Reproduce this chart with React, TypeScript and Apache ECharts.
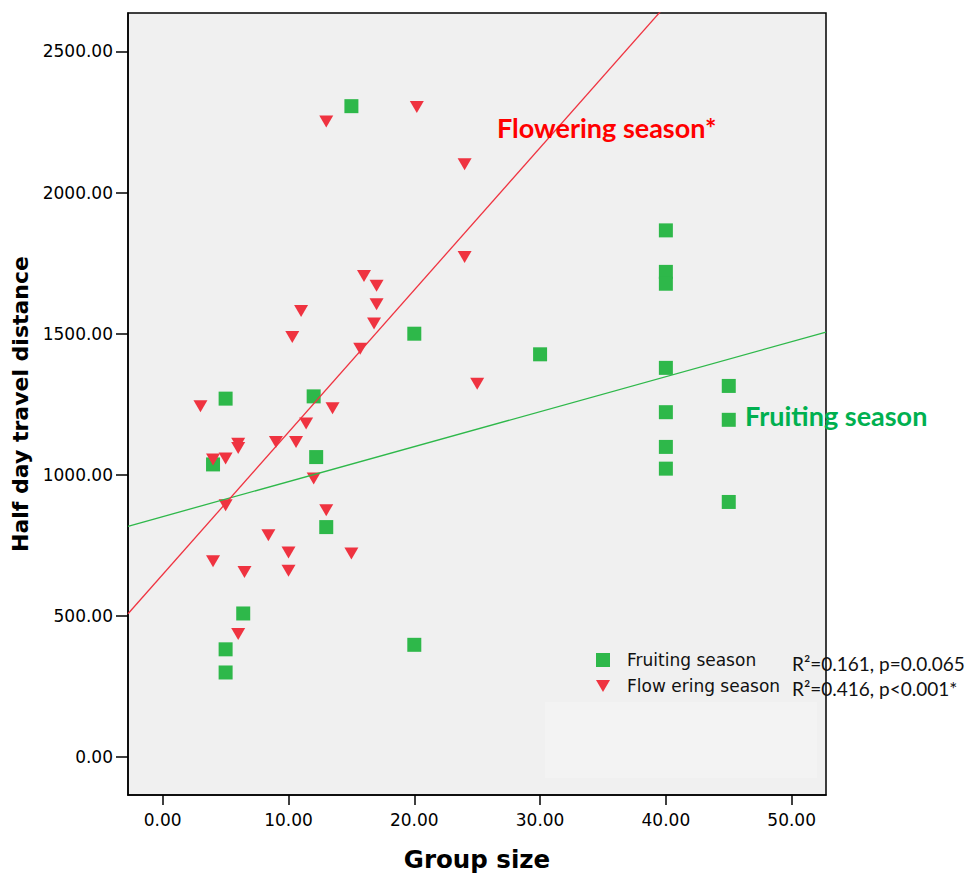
import React, { useEffect, useRef } from "react";
import * as echarts from "echarts";

// Fruiting season (green squares)
const fruitingGroupSize = [15, 20, 30, 40, 40, 40, 40, 40, 40, 40, 45, 45, 45, 5, 12, 4, 12.2, 13, 6.4, 5, 5, 20];
const fruitingDistance = [2306, 1500, 1427, 1866, 1719, 1677, 1379, 1222, 1099, 1022, 1315, 1195, 904, 1270, 1278, 1037, 1063, 815, 509, 382, 300, 398];

// Flowering season (red triangles)
const floweringGroupSize = [13, 20.2, 24, 24, 16, 17, 17, 11, 16.8, 10.3, 15.7, 25, 3, 13.5, 11.4, 9, 10.6, 6, 6, 5, 4, 12, 5, 13, 8.4, 10, 15, 4, 6.5, 10, 6];
const floweringDistance = [2252, 2303, 2100, 1772, 1704, 1670, 1604, 1580, 1536, 1488, 1447, 1323, 1243, 1236, 1182, 1116, 1116, 1110, 1095, 1058, 1054, 987, 892, 875, 786, 725, 721, 694, 656, 660, 436];

// Fit lines (intercept, slope)
const fruitingFit = { intercept: 852, slope: 12.4 };
const floweringFit = { intercept: 647, slope: 50.4 };

const xTicks = [0, 10, 20, 30, 40, 50];
const yTicks = [0, 500, 1000, 1500, 2000, 2500];
const X_MIN = -2.76;
const X_MAX = 52.73;
const Y_MIN = -134;
const Y_MAX = 2636;

const GREEN = "#2eb84a";
const RED = "#ef3340";
const TRI = "path://M0,0L14,0L7,12Z";

export default function App() {
  const ref = useRef<HTMLDivElement>(null);
  useEffect(() => {
    if (!ref.current) return;
    const chart = echarts.init(ref.current, undefined, { renderer: "svg" });
    const fitLine = (f: { intercept: number; slope: number }) => [
      [X_MIN, f.intercept + f.slope * X_MIN],
      [X_MAX, f.intercept + f.slope * X_MAX],
    ];
    const axisFont = { fontFamily: "DejaVu Sans", fontSize: 17, color: "#000" };
    chart.setOption({
      animation: false,
      backgroundColor: "#ffffff",
      grid: {
        left: 128,
        top: 13,
        width: 698,
        height: 782,
        show: true,
        backgroundColor: "#f0f0f0",
        borderColor: "#000",
        borderWidth: 1.5,
      },
      xAxis: {
        type: "value",
        min: X_MIN,
        max: X_MAX,
        splitLine: { show: false },
        axisLine: { show: true, onZero: false, lineStyle: { color: "#000", width: 1.5 } },
        axisTick: { show: true, length: 10, customValues: xTicks, lineStyle: { color: "#000", width: 1.5 } },
        axisLabel: { customValues: xTicks, margin: 16, formatter: (v: number) => v.toFixed(2), ...axisFont },
        name: "Group size",
        nameLocation: "middle",
        nameGap: 52,
        nameTextStyle: { fontFamily: "DejaVu Sans", fontWeight: "bold", fontSize: 24.5, color: "#000", verticalAlign: "top" },
      },
      yAxis: {
        type: "value",
        min: Y_MIN,
        max: Y_MAX,
        splitLine: { show: false },
        axisLine: { show: true, onZero: false, lineStyle: { color: "#000", width: 1.5 } },
        axisTick: { show: true, length: 12, customValues: yTicks, lineStyle: { color: "#000", width: 1.5 } },
        axisLabel: { customValues: yTicks, margin: 15, formatter: (v: number) => v.toFixed(2), ...axisFont },
        name: "Half day travel distance",
        nameLocation: "middle",
        nameGap: 94,
        nameTextStyle: { fontFamily: "DejaVu Sans", fontWeight: "bold", fontSize: 22, color: "#000" },
      },
      legend: {
        orient: "vertical",
        left: 596,
        top: 650,
        padding: 0,
        itemWidth: 14,
        itemHeight: 14,
        itemGap: 6,
        data: ["Fruiting season", "Flow ering season"],
        textStyle: { fontFamily: "DejaVu Sans", fontSize: 17, color: "#111", lineHeight: 20, padding: [0, 0, 0, 12] },
      },
      graphic: [
        { type: "rect", shape: { x: 545, y: 702, width: 272, height: 76 }, style: { fill: "#f3f3f3" }, z: 0, silent: true },
        { type: "text", x: 497, y: 127, style: { text: "Flowering season*", fill: "#ff0000", font: "bold 27px Lato", textVerticalAlign: "middle" }, z: 50 },
        { type: "text", x: 745, y: 415, style: { text: "Fruiting season", fill: "#00b050", font: "bold 27px Lato", textVerticalAlign: "middle" }, z: 50 },
        { type: "text", x: 792, y: 663, style: { text: "R²=0.161, p=0.0.065", fill: "#111", font: "19px Lato", textVerticalAlign: "middle" }, z: 50 },
        { type: "text", x: 792, y: 688, style: { text: "R²=0.416, p<0.001*", fill: "#111", font: "19px Lato", textVerticalAlign: "middle" }, z: 50 },
      ],
      series: [
        {
          name: "Fruiting season",
          type: "scatter",
          symbol: "rect",
          symbolSize: 14,
          itemStyle: { color: GREEN, opacity: 1 },
          data: fruitingGroupSize.map((x, i) => [x, fruitingDistance[i]]),
          z: 3,
        },
        {
          name: "Flow ering season",
          type: "scatter",
          symbol: TRI,
          symbolSize: [14, 12],
          itemStyle: { color: RED, opacity: 1 },
          data: floweringGroupSize.map((x, i) => [x, floweringDistance[i]]),
          z: 3,
        },
        {
          name: "Fruiting fit",
          type: "line",
          symbol: "none",
          clip: true,
          lineStyle: { color: GREEN, width: 1.3 },
          data: fitLine(fruitingFit),
          z: 4,
        },
        {
          name: "Flowering fit",
          type: "line",
          symbol: "none",
          clip: true,
          lineStyle: { color: RED, width: 1.3 },
          data: fitLine(floweringFit),
          z: 4,
        },
      ],
    });
    return () => chart.dispose();
  }, []);
  return <div ref={ref} style={{ position: "fixed", left: 0, top: 0, width: 968, height: 877 }} />;
}
